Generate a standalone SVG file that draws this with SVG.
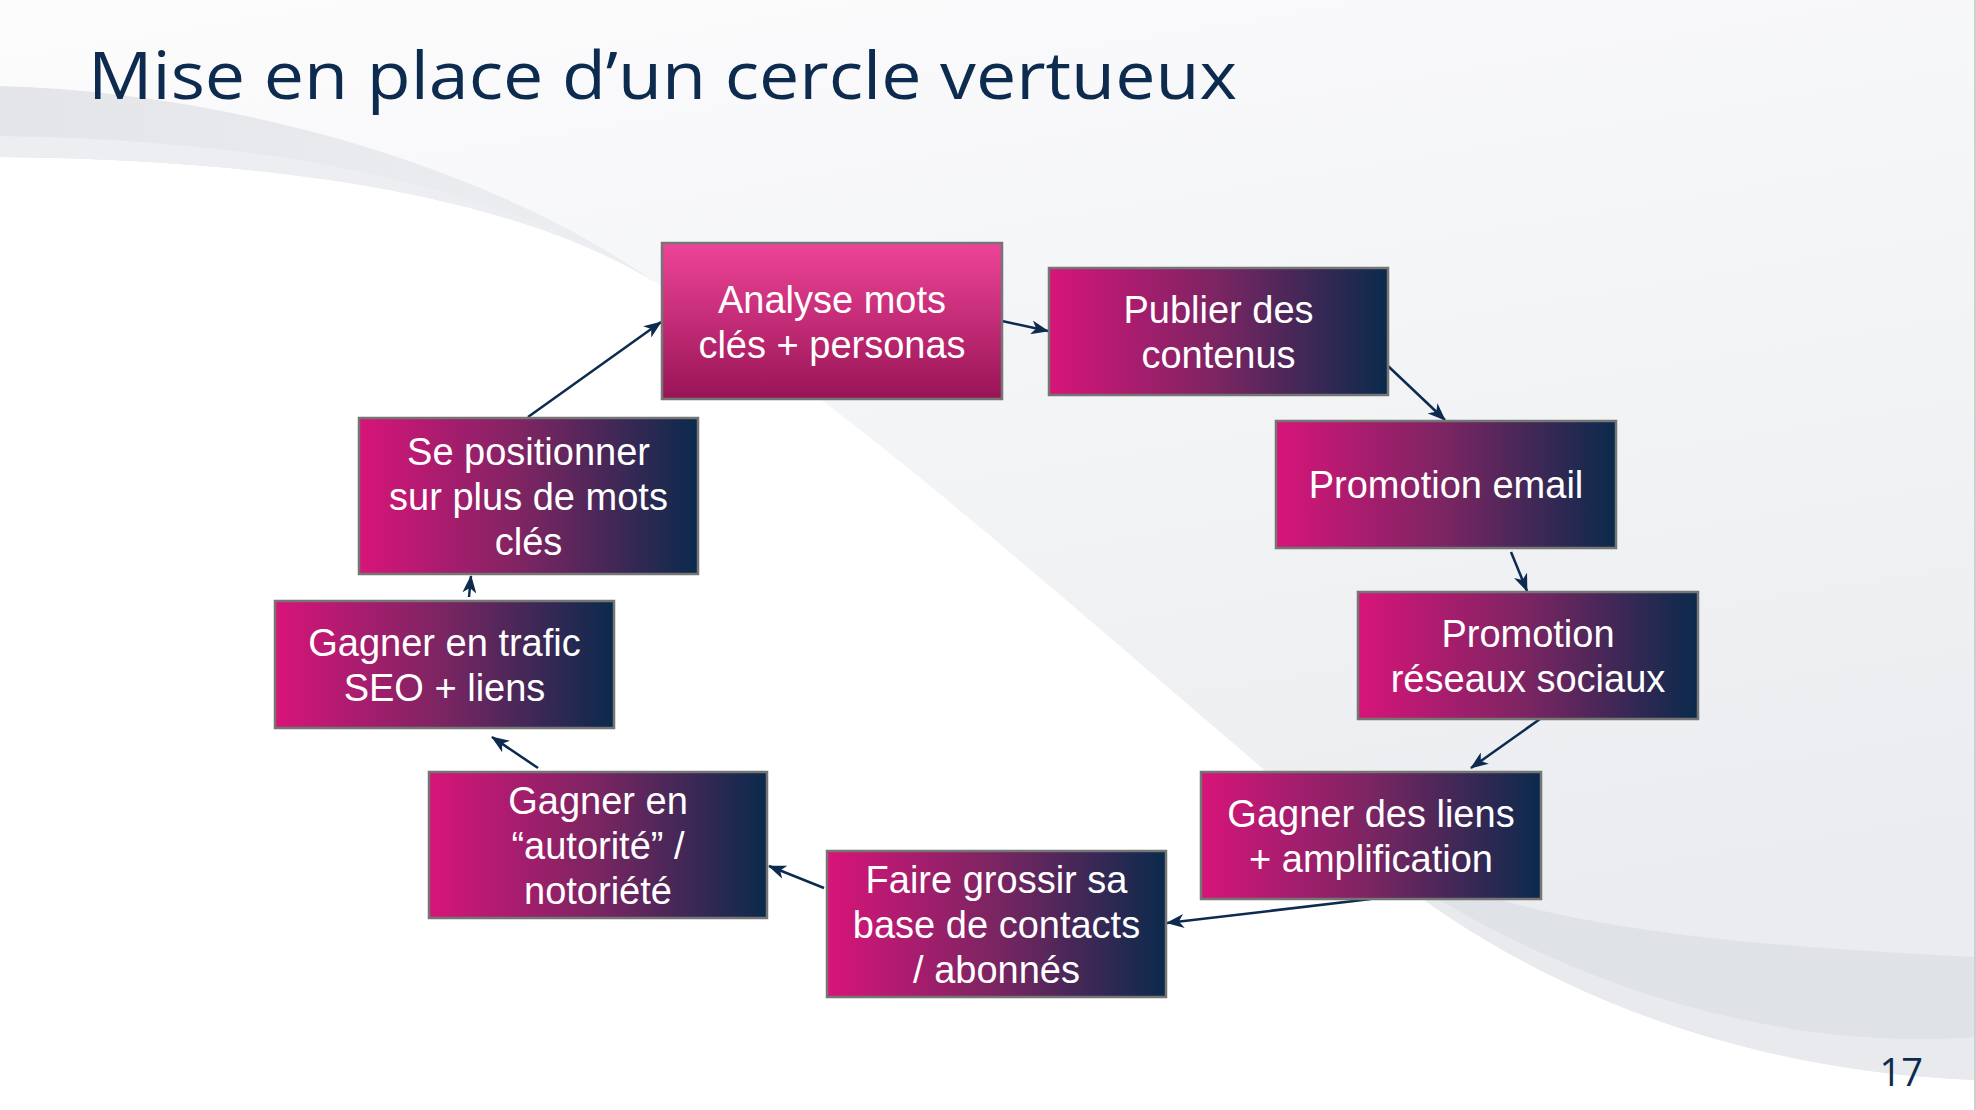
<svg xmlns="http://www.w3.org/2000/svg" width="1976" height="1110" viewBox="0 0 1976 1110">
<defs>
<linearGradient id="gBox" x1="0" y1="0" x2="1" y2="0">
<stop offset="0" stop-color="#d81479"/>
<stop offset="0.5" stop-color="#7a2562"/>
<stop offset="1" stop-color="#0a2a4c"/>
</linearGradient>
<linearGradient id="gTop" x1="0" y1="0" x2="0" y2="1">
<stop offset="0" stop-color="#ee4497"/>
<stop offset="1" stop-color="#981456"/>
</linearGradient>
<linearGradient id="gBg" x1="0" y1="0" x2="0.3" y2="1">
<stop offset="0" stop-color="#fcfcfd"/>
<stop offset="0.5" stop-color="#f3f4f6"/>
<stop offset="1" stop-color="#eaecef"/>
</linearGradient>
<linearGradient id="gBand" x1="0" y1="0" x2="1" y2="0">
<stop offset="0" stop-color="#e3e5e8"/>
<stop offset="1" stop-color="#eceef1"/>
</linearGradient>
<marker id="arr" markerUnits="userSpaceOnUse" markerWidth="18" markerHeight="14" refX="17" refY="7" orient="auto">
<path d="M0,0 L18,7 L0,14 L5,7 Z" fill="#0d2b4e"/>
</marker>
</defs>
<style>
.box{stroke:#757575;stroke-width:2.5}
.lbl{font-family:"Liberation Sans",Arial,sans-serif;font-size:38px;fill:#ffffff;text-anchor:middle}
.con{stroke:#0d2b4e;stroke-width:2.5;fill:none;marker-end:url(#arr)}
.ttl{font-family:"Open Sans","Noto Sans",sans-serif;font-weight:500;fill:#0d2b4e}
</style>
<g id="background">
<rect x="0" y="0" width="1976" height="1110" fill="#ffffff"/>
<path d="M0,0 L1976,0 L1976,1080 C1720,1070 1520,979 1386,871 C1150,680 900,440 655,282 C520,200 300,160 0,157 Z" fill="url(#gBg)"/>
<path d="M0,86 C220,92 480,160 655,282 C520,200 300,160 0,157 Z" fill="url(#gBand)"/>
<path d="M0,136 C250,140 480,175 655,282 C520,200 300,160 0,157 Z" fill="#eceef1"/>
<path d="M1330,820 C1450,905 1600,940 1976,957 L1976,1080 C1720,1070 1520,979 1386,871 Z" fill="#e8eaed"/>
<path d="M1330,820 C1450,905 1600,940 1976,957 L1976,1037 C1800,1050 1600,1000 1420,888 Z" fill="#dfe2e6"/>
<line x1="1975" y1="0" x2="1975" y2="1110" stroke="#cdd0d3" stroke-width="2"/>
</g>
<text class="ttl" x="88" y="99" font-size="66" textLength="1149" lengthAdjust="spacingAndGlyphs">Mise en place d’un cercle vertueux</text>
<text class="ttl" x="1923" y="1086" font-size="38" text-anchor="end">17</text>
<g id="connectors">
<line class="con" x1="1002" y1="321" x2="1048" y2="331"/>
<line class="con" x1="1388" y1="366" x2="1445" y2="420"/>
<line class="con" x1="1511" y1="552" x2="1527" y2="591"/>
<line class="con" x1="1540" y1="719" x2="1471" y2="768"/>
<line class="con" x1="1371" y1="899" x2="1167" y2="923"/>
<line class="con" x1="824" y1="888" x2="769" y2="866"/>
<line class="con" x1="538" y1="768" x2="492" y2="737"/>
<line class="con" x1="469" y1="597" x2="471" y2="576"/>
<line class="con" x1="528" y1="417" x2="661" y2="322"/>
</g>
<g id="n1">
<rect class="box" x="662" y="243" width="340" height="156" fill="url(#gTop)"/>
<text class="lbl" x="832" y="313">Analyse mots</text>
<text class="lbl" x="832" y="358">clés + personas</text>
</g>
<g id="n2">
<rect class="box" x="1049" y="268" width="339" height="127" fill="url(#gBox)"/>
<text class="lbl" x="1218.5" y="323">Publier des</text>
<text class="lbl" x="1218.5" y="368">contenus</text>
</g>
<g id="n3">
<rect class="box" x="1276" y="421" width="340" height="127" fill="url(#gBox)"/>
<text class="lbl" x="1446" y="498">Promotion email</text>
</g>
<g id="n4">
<rect class="box" x="1358" y="592" width="340" height="127" fill="url(#gBox)"/>
<text class="lbl" x="1528" y="647">Promotion</text>
<text class="lbl" x="1528" y="692">réseaux sociaux</text>
</g>
<g id="n5">
<rect class="box" x="1201" y="772" width="340" height="127" fill="url(#gBox)"/>
<text class="lbl" x="1371" y="827">Gagner des liens</text>
<text class="lbl" x="1371" y="872">+ amplification</text>
</g>
<g id="n6">
<rect class="box" x="827" y="851" width="339" height="146" fill="url(#gBox)"/>
<text class="lbl" x="996.5" y="893">Faire grossir sa</text>
<text class="lbl" x="996.5" y="938">base de contacts</text>
<text class="lbl" x="996.5" y="983">/ abonnés</text>
</g>
<g id="n7">
<rect class="box" x="429" y="772" width="338" height="146" fill="url(#gBox)"/>
<text class="lbl" x="598" y="814">Gagner en</text>
<text class="lbl" x="598" y="859">“autorité” /</text>
<text class="lbl" x="598" y="904">notoriété</text>
</g>
<g id="n8">
<rect class="box" x="275" y="601" width="339" height="127" fill="url(#gBox)"/>
<text class="lbl" x="444.5" y="656">Gagner en trafic</text>
<text class="lbl" x="444.5" y="701">SEO + liens</text>
</g>
<g id="n9">
<rect class="box" x="359" y="418" width="339" height="156" fill="url(#gBox)"/>
<text class="lbl" x="528.5" y="465">Se positionner</text>
<text class="lbl" x="528.5" y="510">sur plus de mots</text>
<text class="lbl" x="528.5" y="555">clés</text>
</g>
</svg>
